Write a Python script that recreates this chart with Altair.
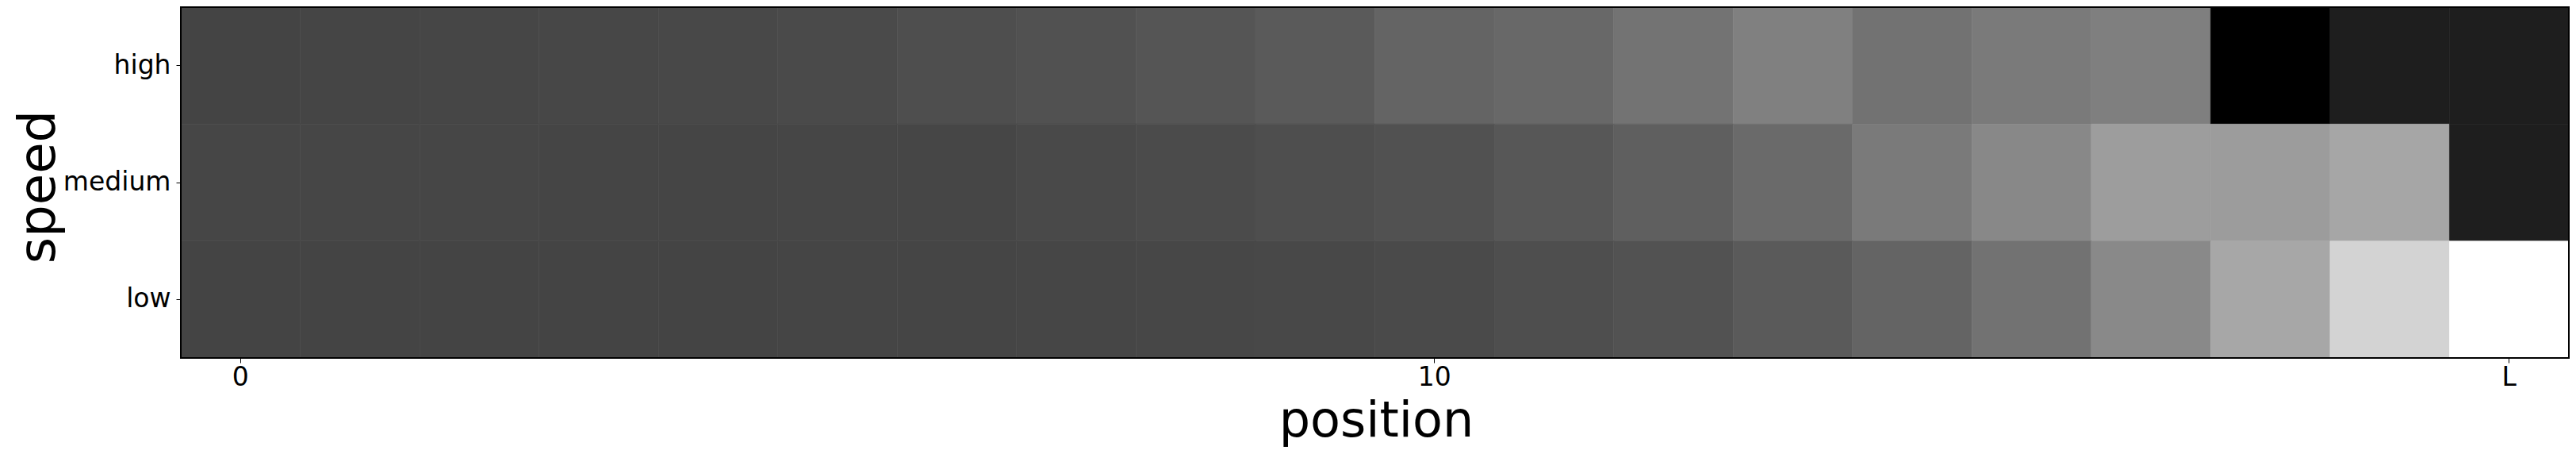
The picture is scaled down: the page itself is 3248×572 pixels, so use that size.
import altair as alt
import pandas as pd

# grey level of each cell (0 = black, 255 = white)
speeds = ["high", "medium", "low"]
positions = [0, 1, 2, 3, 4, 5, 6, 7, 8, 9, 10, 11, 12, 13, 14, 15, 16, 17, 18, 19]
high = [68, 69, 70, 71, 72, 74, 78, 81, 85, 90, 100, 104, 115, 128, 114, 122, 127, 0, 30, 30]
medium = [70, 70, 70, 69, 69, 70, 70, 73, 75, 78, 81, 87, 95, 106, 122, 136, 157, 156, 166, 30]
low = [68, 68, 68, 68, 68, 69, 69, 70, 71, 72, 74, 78, 82, 90, 100, 114, 137, 167, 211, 255]

tick_values = [0, 10, 19]
tick_labels = ["0", "10", "L"]

rows = []
for name, vals in zip(speeds, [high, medium, low]):
    for p, v in zip(positions, vals):
        rows.append({"position": p, "speed": name, "value": v})
df = pd.DataFrame(rows)

label_expr = " : ".join(
    f"datum.value == {v} ? '{t}'" for v, t in zip(tick_values[:-1], tick_labels[:-1])
) + f" : '{tick_labels[-1]}'"

FONT = "DejaVu Sans"
W, H = 3011, 442
cscale = alt.Scale(domain=[0, 255], range=["#000000", "#ffffff"], interpolate="rgb")

heat = (
    alt.Chart(df)
    .mark_rect(strokeWidth=0.6)
    .encode(
        x=alt.X(
            "position:O",
            scale=alt.Scale(paddingInner=0, paddingOuter=0),
            axis=alt.Axis(
                title="position",
                values=tick_values,
                labelExpr=label_expr,
                labelAngle=0,
                labelFontSize=33,
                labelFont=FONT,
                labelColor="black",
                labelPadding=2,
                tickSize=6,
                tickColor="black",
                tickWidth=1,
                domain=False,
                titleFontSize=62,
                titleFont=FONT,
                titleFontWeight="normal",
                titleColor="black",
                titleBaseline="alphabetic",
                titleAlign="center",
                titleX=1507,
                titleY=98,
            ),
        ),
        y=alt.Y(
            "speed:N",
            sort=speeds,
            scale=alt.Scale(paddingInner=0, paddingOuter=0),
            axis=alt.Axis(
                title="speed",
                labelFontSize=33,
                labelFont=FONT,
                labelColor="black",
                labelPadding=7,
                tickSize=6,
                tickColor="black",
                tickWidth=1,
                domain=False,
                titleFontSize=64,
                titleFont=FONT,
                titleFontWeight="normal",
                titleColor="black",
                titleBaseline="alphabetic",
                titleAlign="center",
                titleAngle=270,
                titleX=-160,
                titleY=226,
            ),
        ),
        color=alt.Color("value:Q", scale=cscale, legend=None),
        stroke=alt.Stroke("value:Q", scale=cscale, legend=None),
    )
)

frame = (
    alt.Chart(pd.DataFrame({"a": [0]}))
    .mark_rect(filled=False, stroke="black", strokeWidth=2)
    .encode(
        x=alt.value(0),
        x2=alt.value(W),
        y=alt.value(0),
        y2=alt.value(H),
    )
)

chart = (
    alt.layer(heat, frame)
    .properties(
        width=W,
        height=H,
        autosize=alt.AutoSizeParams(type="none"),
        padding={"left": 220, "top": 1, "right": 1, "bottom": 113},
    )
    .configure_view(stroke=None)
    .configure(background="white")
)

chart.save("out.html", embed_options={"renderer": "svg", "actions": False})
